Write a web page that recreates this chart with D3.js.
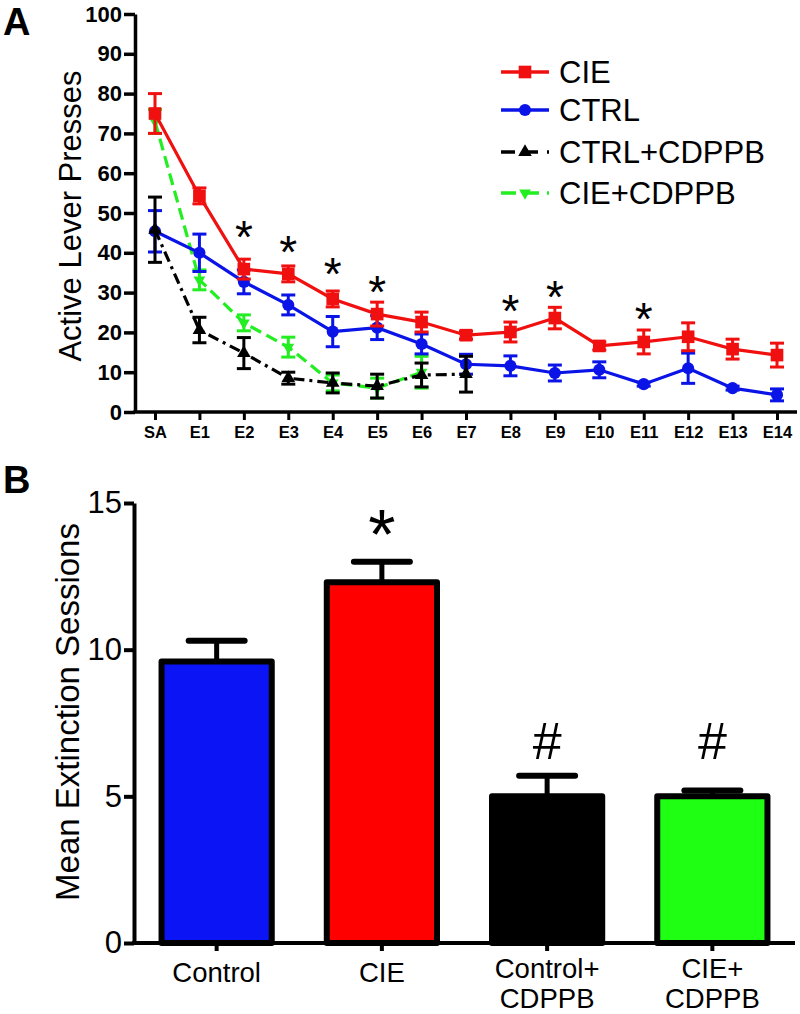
<!DOCTYPE html>
<html><head><meta charset="utf-8">
<script src="https://cdn.jsdelivr.net/npm/d3@7/dist/d3.min.js"></script>
<style>body{margin:0;background:#fff}svg{display:block;font-family:"Liberation Sans",Arial,sans-serif}</style>
</head><body>
<svg id="c" width="800" height="1014"></svg>
<script>
// ---------- Panel A data ----------
const categories = ["SA","E1","E2","E3","E4","E5","E6","E7","E8","E9","E10","E11","E12","E13","E14"];
const yTicksA = [0,10,20,30,40,50,60,70,80,90,100];
const cieMean = [75,54.3,35.9,34.7,28.4,24.6,22.6,19.3,20.1,23.6,16.6,17.6,18.9,15.8,14.3];
const cieErr  = [5,2,2.5,2,2,3,2.5,1,2.5,2.7,1,3,3.5,2.5,3];
const ctrlMean = [45.4,40,32.7,26.9,20.2,21.2,17.1,12,11.6,9.8,10.6,7,11,6,4.3];
const ctrlErr  = [5.2,4.7,3,2.5,3.8,3,2.5,2.5,2.5,2,2,0.5,3.8,0.5,1.5];
const ctrlCdppbMean = [45.8,20.6,14.8,8.5,7.3,6.5,9.3,9.5];
const ctrlCdppbErr  = [8.2,3.2,3.9,1.5,2.5,3,3,4.5];
const cieCdppbMean = [73,33.2,22.4,16.3,7.3,6,10];
const cieCdppbErr  = [3,2.5,2,2.5,2,2.5,4];
const starCats = ["E2","E3","E4","E5","E8","E9","E11"];
const starVals = [46.2,42.5,36.9,32.4,27.6,31.2,25.6];
const seriesNames = ["CIE","CTRL","CTRL+CDPPB","CIE+CDPPB"];

// ---------- Panel B data ----------
const groups = ["Control","CIE","Control+|CDPPB","CIE+|CDPPB"];
const groupMeans = [9.6,12.3,5.0,5.0];
const groupErrs = [0.7,0.7,0.7,0.2];
const groupMarks = ["","*","#","#"];
const groupMarkVals = [null,14.4,6.9,6.9];
const yTicksB = [0,5,10,15];

const svg = d3.select("#c");

// ================= PANEL A =================
const xA = d3.scalePoint().domain(categories).range([135,797]).padding(0.45);
const yA = d3.scaleLinear().domain([0,100]).range([412,14]);

const seriesA = [
  {name:"CIE+CDPPB", mean:cieCdppbMean, err:cieCdppbErr, color:"#22EE22", dash:"12,6", sym:"down"},
  {name:"CTRL", mean:ctrlMean, err:ctrlErr, color:"#0A14E6", dash:null, sym:"circle"},
  {name:"CTRL+CDPPB", mean:ctrlCdppbMean, err:ctrlCdppbErr, color:"#000000", dash:"11,5,3,5", sym:"tri"},
  {name:"CIE", mean:cieMean, err:cieErr, color:"#F01010", dash:null, sym:"square"}
];

const symGen = {
  square: d3.symbol().type(d3.symbolSquare).size(160),
  circle: d3.symbol().type(d3.symbolCircle).size(115),
  tri: d3.symbol().type(d3.symbolTriangle).size(80),
  down: d3.symbol().type(d3.symbolTriangle).size(60)
};

const gA = svg.append("g");
const line = d3.line().x(d=>xA(d.c)).y(d=>yA(d.v));

seriesA.forEach(s=>{
  const pts = s.mean.map((v,i)=>({c:categories[i], v, e:s.err[i]}));
  const g = gA.append("g");
  g.append("path").datum(pts).attr("d",line).attr("fill","none")
    .attr("stroke",s.color).attr("stroke-width",3.2)
    .attr("stroke-dasharray",s.dash);
  const eb = g.selectAll(".eb").data(pts).join("g");
  eb.append("line").attr("x1",d=>xA(d.c)).attr("x2",d=>xA(d.c))
    .attr("y1",d=>yA(d.v-d.e)).attr("y2",d=>yA(d.v+d.e))
    .attr("stroke",s.color).attr("stroke-width",3);
  [1,-1].forEach(sg=>{
    eb.append("line").attr("x1",d=>xA(d.c)-7).attr("x2",d=>xA(d.c)+7)
      .attr("y1",d=>yA(d.v+sg*d.e)).attr("y2",d=>yA(d.v+sg*d.e))
      .attr("stroke",s.color).attr("stroke-width",3);
  });
  g.selectAll(".m").data(pts).join("path")
    .attr("d",symGen[s.sym])
    .attr("transform",d=>`translate(${xA(d.c)},${yA(d.v)})${s.sym==="down"?" rotate(180)":""}`)
    .attr("fill",s.color);
});

// axes A
const axYA = d3.axisLeft(yA).tickValues(yTicksA).tickSize(11).tickSizeOuter(0);
const gya = svg.append("g").attr("transform","translate(135,0)").call(axYA);
gya.select(".domain").attr("stroke","#000").attr("stroke-width",3.5);
gya.selectAll(".tick line").attr("stroke","#000").attr("stroke-width",3.5);
gya.selectAll(".tick text").attr("font-size",22).attr("font-weight","bold").attr("x",-13).attr("fill","#000");

const axXA = d3.axisBottom(xA).tickSize(8).tickSizeOuter(0);
const gxa = svg.append("g").attr("transform","translate(0,412)").call(axXA);
gxa.select(".domain").attr("stroke","#000").attr("stroke-width",3.5).attr("d","M133.3,0H797");
gxa.selectAll(".tick line").attr("stroke","#000").attr("stroke-width",3);
gxa.selectAll(".tick text").attr("font-size",16.5).attr("font-weight","bold").attr("y",14).attr("fill","#000");

svg.append("text").attr("transform","translate(81,216) rotate(-90)").attr("text-anchor","middle")
  .attr("font-size",31).text("Active Lever Presses");

// stars A
svg.append("g").selectAll("text").data(starCats).join("text")
  .attr("x",d=>xA(d)).attr("y",(d,i)=>yA(starVals[i])+25)
  .attr("text-anchor","middle").attr("font-size",46).text("*");

// legend A
const legendOrder = [
  {color:"#F01010", dash:null, sym:"square"},
  {color:"#0A14E6", dash:null, sym:"circle"},
  {color:"#000000", dash:"14,9", sym:"tri"},
  {color:"#22EE22", dash:"15,8", sym:"down"}
];
const legY = [72,110,152,193];
const lg = svg.append("g");
legendOrder.forEach((s,i)=>{
  lg.append("line").attr("x1",501).attr("x2",549).attr("y1",legY[i]).attr("y2",legY[i])
    .attr("stroke",s.color).attr("stroke-width",3.5).attr("stroke-dasharray",s.dash);
  lg.append("path").attr("d",symGen[s.sym])
    .attr("transform",`translate(525,${legY[i]})${s.sym==="down"?" rotate(180)":""}`).attr("fill",s.color);
  lg.append("text").attr("x",559).attr("y",legY[i]+11).attr("font-size",31).text(seriesNames[i]);
});

svg.append("text").attr("x",3).attr("y",35).attr("font-size",38).attr("font-weight","bold").text("A");

// ================= PANEL B =================
const xB = d3.scaleBand().domain(groups).range([134,795]).paddingInner(0.333).paddingOuter(0.1667);
const yB = d3.scaleLinear().domain([0,15]).range([943,503]);
const barColors = ["#0A14F5","#FF0000","#000000","#1EFF14"];

const gB = svg.append("g");
groups.forEach((g,i)=>{
  const cx = xB(g)+xB.bandwidth()/2;
  gB.append("line").attr("x1",cx).attr("x2",cx).attr("y1",yB(groupMeans[i])).attr("y2",yB(groupMeans[i]+groupErrs[i]))
    .attr("stroke","#000").attr("stroke-width",5);
  gB.append("line").attr("x1",cx-28).attr("x2",cx+28).attr("y1",yB(groupMeans[i]+groupErrs[i])).attr("y2",yB(groupMeans[i]+groupErrs[i]))
    .attr("stroke","#000").attr("stroke-width",6).attr("stroke-linecap","round");
});
gB.selectAll("rect").data(groups).join("rect")
  .attr("x",d=>xB(d)).attr("width",xB.bandwidth())
  .attr("y",(d,i)=>yB(groupMeans[i])).attr("height",(d,i)=>yB(0)-yB(groupMeans[i]))
  .attr("fill",(d,i)=>barColors[i]).attr("stroke","#000").attr("stroke-width",6).attr("stroke-linejoin","round");

const axYB = d3.axisLeft(yB).tickValues(yTicksB).tickSize(10).tickSizeOuter(0);
const gyb = svg.append("g").attr("transform","translate(134,0)").call(axYB);
gyb.select(".domain").attr("stroke","#000").attr("stroke-width",4);
gyb.selectAll(".tick line").attr("stroke","#000").attr("stroke-width",4);
gyb.selectAll(".tick text").attr("font-size",31).attr("x",-12).attr("fill","#000");

const axXB = d3.axisBottom(xB).tickSize(8).tickSizeOuter(0).tickFormat("");
const gxb = svg.append("g").attr("transform","translate(0,943)").call(axXB);
gxb.select(".domain").attr("stroke","#000").attr("stroke-width",4).attr("d","M132,0H795");
gxb.selectAll(".tick line").attr("stroke","#000").attr("stroke-width",4);
gxb.selectAll(".tick").each(function(d){
  const lines = d.split("|");
  const t = d3.select(this).append("text").attr("text-anchor","middle").attr("font-size",27.5).attr("fill","#000");
  lines.forEach((l,k)=>t.append("tspan").attr("x",0).attr("y",lines.length>1?35+k*30:39).text(l));
});

svg.append("text").attr("transform","translate(79,712) rotate(-90)").attr("text-anchor","middle")
  .attr("font-size",33).text("Mean Extinction Sessions");

gB.selectAll(".ann").data(groups).join("text")
  .attr("x",d=>xB(d)+xB.bandwidth()/2)
  .attr("y",(d,i)=>groupMarkVals[i]===null?0:yB(groupMarkVals[i])+(groupMarks[i]==="*"?38:18))
  .attr("text-anchor","middle").attr("font-size",(d,i)=>groupMarks[i]==="*"?70:52)
  .text((d,i)=>groupMarks[i]);

svg.append("text").attr("x",3).attr("y",493).attr("font-size",38).attr("font-weight","bold").text("B");
</script>
</body></html>
